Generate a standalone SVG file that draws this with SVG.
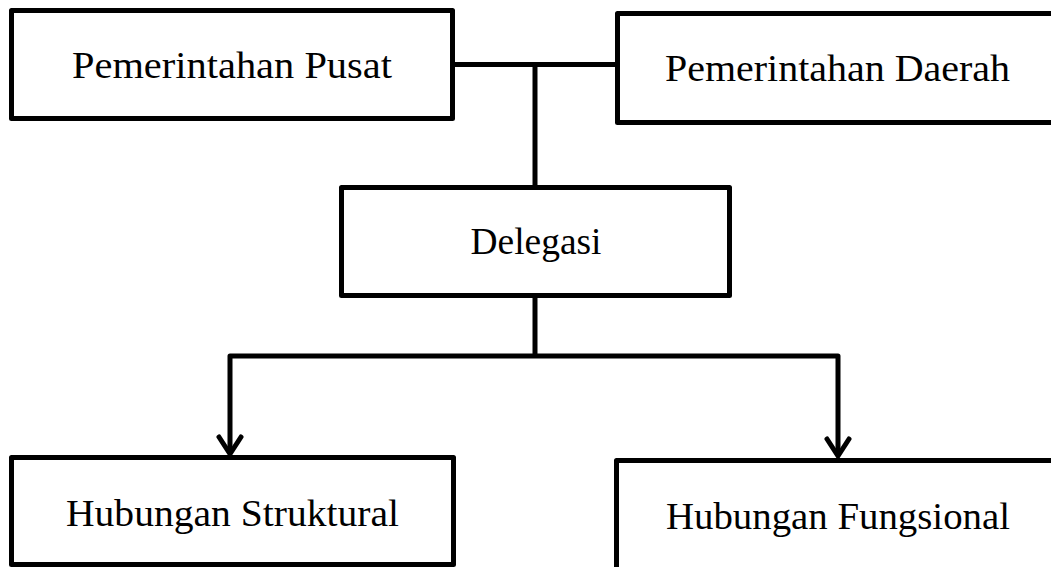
<svg xmlns="http://www.w3.org/2000/svg" width="1051" height="567" viewBox="0 0 1051 567">
<style>
.box{fill:#fff;stroke:#000;stroke-width:5;stroke-linejoin:round}
.lbl{font-family:"Liberation Serif","DejaVu Serif",serif;font-size:38px;fill:#000;text-anchor:middle}
.ln{fill:none;stroke:#000;stroke-width:5;stroke-linejoin:round}
</style>
<defs>
<marker id="arr" markerUnits="userSpaceOnUse" markerWidth="30" markerHeight="30" refX="25" refY="15" orient="auto" viewBox="0 0 30 30">
<path d="M8,4 L25,15 L8,26" fill="none" stroke="#000" stroke-width="5" stroke-linecap="round" stroke-linejoin="miter"/>
</marker>
</defs>
<g id="connectors">
<line class="ln" x1="453" y1="64.5" x2="617" y2="64.5"/>
<line class="ln" x1="535" y1="64.5" x2="535" y2="187"/>
<line class="ln" x1="535" y1="298" x2="535" y2="356"/>
<path class="ln" d="M535,356 H230 V454" marker-end="url(#arr)"/>
<path class="ln" d="M535,356 H838 V456" marker-end="url(#arr)"/>
</g>
<g id="pemerintahan-pusat">
<rect class="box" x="11.5" y="10.5" width="441" height="108"/>
<text class="lbl" x="232" y="78" textLength="320" lengthAdjust="spacingAndGlyphs">Pemerintahan Pusat</text>
</g>
<g id="pemerintahan-daerah">
<rect class="box" x="617.5" y="13.5" width="445" height="109"/>
<text class="lbl" x="837.5" y="81" textLength="345" lengthAdjust="spacingAndGlyphs">Pemerintahan Daerah</text>
</g>
<g id="delegasi">
<rect class="box" x="341.5" y="187.5" width="388" height="108"/>
<text class="lbl" x="536" y="254" textLength="131" lengthAdjust="spacingAndGlyphs">Delegasi</text>
</g>
<g id="hubungan-struktural">
<rect class="box" x="11.5" y="457.5" width="442" height="107"/>
<text class="lbl" x="232.5" y="526" textLength="333" lengthAdjust="spacingAndGlyphs">Hubungan Struktural</text>
</g>
<g id="hubungan-fungsional">
<rect class="box" x="616.5" y="460.5" width="445" height="115"/>
<text class="lbl" x="838" y="529" textLength="344" lengthAdjust="spacingAndGlyphs">Hubungan Fungsional</text>
</g>
</svg>
